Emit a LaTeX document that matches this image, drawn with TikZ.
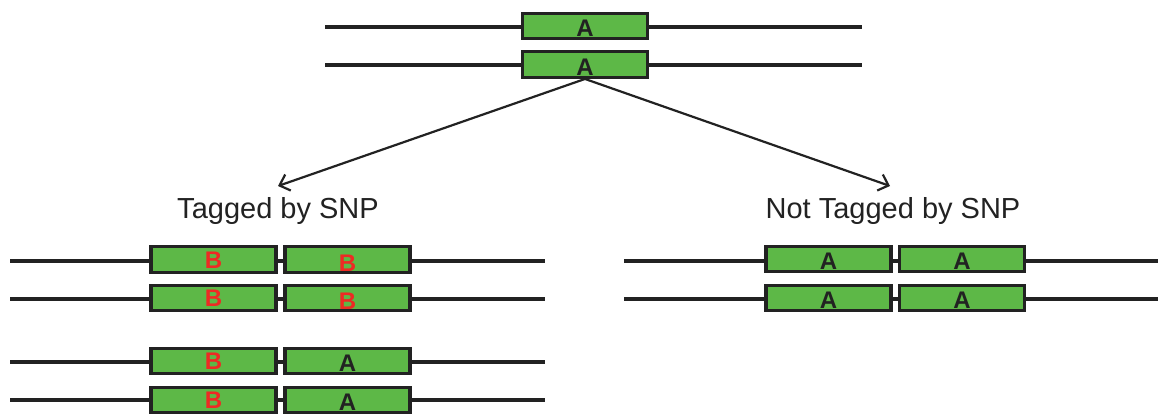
\documentclass[tikz,border=0pt]{standalone}
\usepackage{fontspec}
\setmainfont{Liberation Sans}
\usetikzlibrary{arrows.meta}
\definecolor{genegreen}{HTML}{5DB847}
\definecolor{outline}{HTML}{222222}
\definecolor{snpred}{HTML}{EE2A24}
\tikzset{
  gene/.style={draw=outline, line width=3.4pt, fill=genegreen, rectangle,
    minimum width=125pt, minimum height=25.5pt, inner sep=0pt,
    text height=21pt, text depth=0pt,
    font=\fontsize{24}{24}\selectfont\bfseries, text=outline},
  snp/.style={text=snpred},
  chrom/.style={draw=outline, line width=3.4pt},
  link/.style={draw=outline, line width=2.2pt, -{Straight Barb[length=9pt,width=17pt,line width=2.2pt]}},
  caption/.style={font=\fontsize{29}{29}\selectfont, text=outline, inner sep=0pt}
}
\begin{document}
\begin{tikzpicture}[x=1pt,y=-1pt]
\useasboundingbox (0,0) rectangle (1158,415);

% parental pair
\coordinate (t1l) at (325,27);  \coordinate (t1r) at (862,27);
\coordinate (t2l) at (325,65);  \coordinate (t2r) at (862,65);
\draw[chrom] (t1l) -- (t1r);
\draw[chrom] (t2l) -- (t2r);
\node[gene] (ta) at (585,26) {A};
\node[gene] (tb) at (585,64.5) {A};

% tagged branch
\coordinate (l1l) at (10,261);  \coordinate (l1r) at (545,261);
\coordinate (l2l) at (10,299);  \coordinate (l2r) at (545,299);
\coordinate (l3l) at (10,362);  \coordinate (l3r) at (545,362);
\coordinate (l4l) at (10,400);  \coordinate (l4r) at (545,400);
\foreach \i in {1,2,3,4} \draw[chrom] (l\i l) -- (l\i r);
\node[gene,snp] (g11) at (213.5,259.5) {\raisebox{2pt}{B}};
\node[gene,snp] (g12) at (347.5,259.5) {\raisebox{-1pt}{B}};
\node[gene,snp] (g21) at (213.5,298) {\raisebox{2pt}{B}};
\node[gene,snp] (g22) at (347.5,298) {\raisebox{-1pt}{B}};
\node[gene,snp] (g31) at (213.5,361) {\raisebox{2pt}{B}};
\node[gene] (g32) at (347.5,361) {A};
\node[gene,snp] (g41) at (213.5,400) {\raisebox{2pt}{B}};
\node[gene] (g42) at (347.5,400) {A};

% untagged branch
\coordinate (r1l) at (624,261);  \coordinate (r1r) at (1158,261);
\coordinate (r2l) at (624,299);  \coordinate (r2r) at (1158,299);
\draw[chrom] (r1l) -- (r1r);
\draw[chrom] (r2l) -- (r2r);
\node[gene] (h11) at (828.5,259) {A};
\node[gene] (h12) at (962,259) {A};
\node[gene] (h21) at (828.5,298) {A};
\node[gene] (h22) at (962,298) {A};

% captions
\node[caption] (tag) at (278,211) {Tagged by SNP};
\node[caption] (ntag) at (893,211) {Not Tagged by SNP};

% inheritance arrows
\coordinate (tip1) at (278,186);
\coordinate (tip2) at (890,186);
\draw[link] (tb.south) -- (tip1);
\draw[link] (tb.south) -- (tip2);
\end{tikzpicture}
\end{document}
